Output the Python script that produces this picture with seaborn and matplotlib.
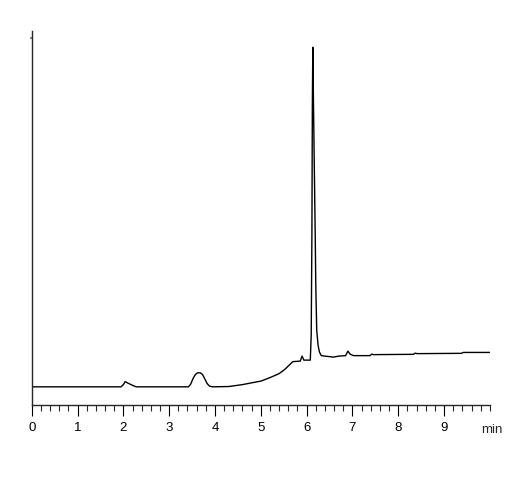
import pandas as pd
import matplotlib
matplotlib.use('Agg')
import matplotlib.pyplot as plt
from matplotlib.ticker import MultipleLocator
import seaborn as sns

# chromatogram trace (time in min, detector signal in a.u.)
times = [0.0, 1.95, 2.0, 2.04, 2.1, 2.2, 2.28, 3.42, 3.47, 3.52, 3.57, 3.62,
         3.68, 3.73, 3.78, 3.83, 3.88, 3.95, 4.3, 4.6, 4.8, 5.0, 5.2, 5.4,
         5.53, 5.62, 5.7, 5.86, 5.9, 5.94, 6.08, 6.1, 6.115, 6.125, 6.135,
         6.15, 6.17, 6.186, 6.2, 6.22, 6.25, 6.28, 6.32, 6.4, 6.5, 6.58, 6.7,
         6.85, 6.9, 6.95, 7.02, 7.38, 7.42, 7.46, 8.33, 8.37, 8.41, 9.38,
         9.42, 10.0]
signal = [18.3, 18.3, 20.5, 23.5, 22.0, 19.8, 18.3, 18.3, 21.0, 26.5, 30.5,
          32.3, 32.3, 30.5, 26.0, 21.5, 19.0, 18.3, 18.6, 20.5, 22.3, 24.0,
          27.5, 31.5, 36.0, 40.0, 43.5, 44.0, 49.0, 45.0, 45.0, 70.0, 170.0,
          300.0, 358.0, 300.0, 230.0, 175.0, 120.0, 75.0, 60.0, 53.0, 49.5,
          49.0, 48.5, 48.0, 49.0, 49.5, 54.0, 51.0, 49.5, 49.5, 51.0, 50.5,
          50.8, 52.0, 51.5, 51.8, 52.7, 52.7]

major_ticks = [0, 1, 2, 3, 4, 5, 6, 7, 8, 9]
tick_labels = [str(t) for t in major_ticks]

df = pd.DataFrame({'time': times, 'signal': signal})

sns.set_style('ticks')
plt.rcParams['font.family'] = ['Liberation Sans', 'DejaVu Sans']

fig = plt.figure(figsize=(5.08, 4.8), dpi=100)
ax = fig.add_axes([0.0624, 0.156, 0.902, 0.779])

sns.lineplot(data=df, x='time', y='signal', color='black', lw=1.0, ax=ax)

ax.set_xlim(0, 10.0)
ax.set_ylim(0, 374)
ax.set_xticks(major_ticks)
ax.set_xticklabels(tick_labels, fontsize=9.5)
ax.xaxis.set_minor_locator(MultipleLocator(0.2))
ax.tick_params(axis='x', which='major', length=8, width=0.8, pad=4, colors='black')
ax.tick_params(axis='x', which='minor', length=4, width=0.8)
ax.set_yticks([367])
ax.set_yticklabels([])
ax.tick_params(axis='y', length=1.5, width=1.5, color='#888888')
ax.set_xlabel('')
ax.set_ylabel('')
for s in ['top', 'right']:
    ax.spines[s].set_visible(False)
ax.spines['left'].set_linewidth(1.0)
ax.spines['bottom'].set_linewidth(1.0)

ax.text(0.981, -0.075, 'min', transform=ax.transAxes, fontsize=9.5,
        va='baseline', ha='left')

fig.savefig('out.png', dpi=100)
